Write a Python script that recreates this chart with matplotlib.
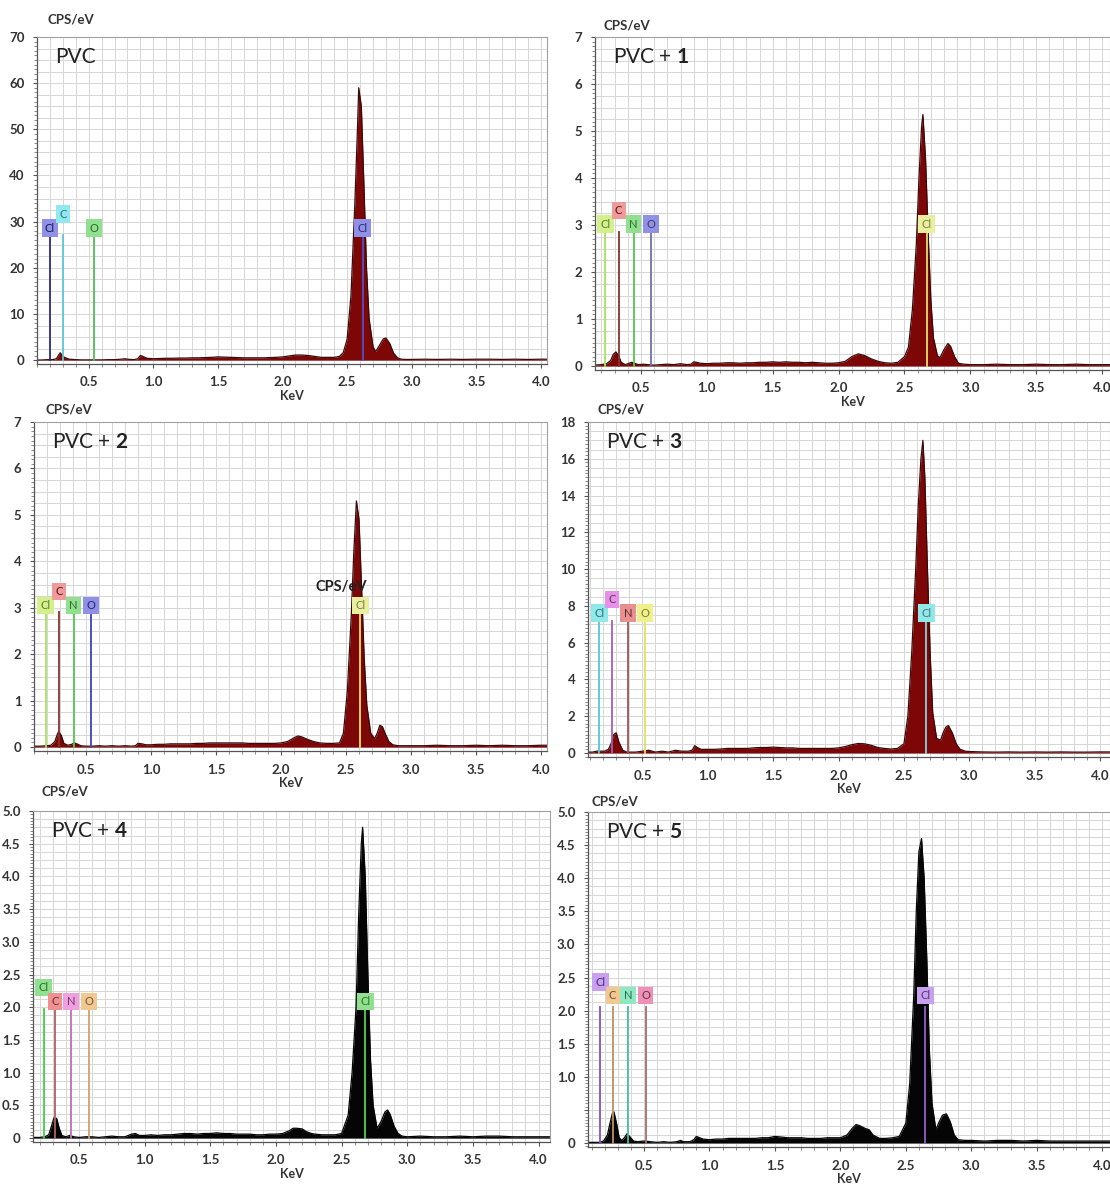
import numpy as np
import matplotlib
matplotlib.use("Agg")
import matplotlib.pyplot as plt
from matplotlib.ticker import MultipleLocator, FixedLocator
import matplotlib.colors as mcolors

plt.rcParams['font.family'] = ['Lato', 'DejaVu Sans']
plt.rcParams['mathtext.fontset'] = 'custom'
plt.rcParams['mathtext.rm'] = 'Lato'
plt.rcParams['mathtext.bf'] = 'Lato:bold'

W, H = 1110, 1191

# ---------------- data (energy keV, counts CPS/eV) ----------------
pvc_energy = [0.10, 0.15, 0.18, 0.20, 0.22, 0.25, 0.27, 0.28, 0.30, 0.32, 0.35, 0.40, 0.45, 0.50,
              0.55, 0.60, 0.65, 0.70, 0.75, 0.78, 0.80, 0.85, 0.88, 0.90, 0.92, 0.95, 1.00, 1.05,
              1.10, 1.15, 1.20, 1.25, 1.30, 1.35, 1.40, 1.45, 1.50, 1.55, 1.60, 1.65, 1.70, 1.75,
              1.80, 1.85, 1.90, 1.95, 2.00, 2.05, 2.10, 2.15, 2.20, 2.25, 2.30, 2.35, 2.40, 2.44,
              2.47, 2.50, 2.53, 2.56, 2.58, 2.59, 2.61, 2.63, 2.65, 2.67, 2.70, 2.72, 2.75, 2.78,
              2.80, 2.83, 2.86, 2.89, 2.92, 2.95, 3.00, 3.10, 3.20, 3.30, 3.40, 3.50, 3.60, 3.70,
              3.80, 3.90, 4.00, 4.05]
pvc_counts = [0.0, 0.05, 0.1, 0.1, 0.1, 0.3, 1.2, 1.6, 0.8, 0.5, 0.2, 0.1, 0.05, 0.05,
              0.05, 0.05, 0.1, 0.1, 0.2, 0.3, 0.2, 0.1, 0.3, 1.0, 0.8, 0.4, 0.3, 0.35,
              0.4, 0.4, 0.45, 0.45, 0.5, 0.5, 0.55, 0.6, 0.7, 0.65, 0.6, 0.55, 0.5, 0.5,
              0.5, 0.5, 0.55, 0.6, 0.7, 0.9, 1.1, 1.1, 1.0, 0.8, 0.6, 0.6, 0.6, 0.8,
              1.6, 4.5, 14, 34, 50, 59, 55, 38, 20, 9, 3, 1.8, 3.2, 4.6,
              4.8, 3.6, 1.5, 0.5, 0.2, 0.15, 0.15, 0.2, 0.15, 0.2, 0.15, 0.2, 0.2, 0.15,
              0.2, 0.15, 0.2, 0.2]

pvc1_energy = [0.15, 0.20, 0.24, 0.27, 0.29, 0.31, 0.33, 0.35, 0.38, 0.41, 0.43, 0.45, 0.48, 0.52,
               0.55, 0.60, 0.65, 0.70, 0.75, 0.80, 0.85, 0.88, 0.90, 0.92, 0.95, 1.00, 1.05, 1.10,
               1.15, 1.20, 1.25, 1.30, 1.35, 1.40, 1.45, 1.50, 1.55, 1.60, 1.65, 1.70, 1.75, 1.80,
               1.85, 1.90, 1.95, 2.00, 2.05, 2.10, 2.15, 2.20, 2.25, 2.30, 2.35, 2.40, 2.45, 2.50,
               2.53, 2.56, 2.59, 2.61, 2.63, 2.64, 2.66, 2.68, 2.70, 2.72, 2.75, 2.77, 2.80, 2.83,
               2.85, 2.88, 2.91, 2.95, 3.00, 3.10, 3.20, 3.30, 3.40, 3.50, 3.60, 3.70, 3.80, 3.90,
               4.00, 4.06]
pvc1_counts = [0.02, 0.03, 0.05, 0.12, 0.25, 0.3, 0.22, 0.08, 0.03, 0.06, 0.08, 0.06, 0.03, 0.04,
               0.03, 0.02, 0.03, 0.04, 0.03, 0.05, 0.03, 0.04, 0.09, 0.08, 0.06, 0.05, 0.06, 0.06,
               0.07, 0.07, 0.06, 0.07, 0.07, 0.08, 0.08, 0.09, 0.08, 0.09, 0.08, 0.08, 0.07, 0.08,
               0.07, 0.06, 0.06, 0.07, 0.1, 0.2, 0.26, 0.22, 0.15, 0.1, 0.07, 0.06, 0.08, 0.2,
               0.4, 1.2, 2.6, 4.0, 5.1, 5.35, 4.4, 2.8, 1.4, 0.6, 0.22, 0.18, 0.35, 0.48,
               0.42, 0.2, 0.06, 0.04, 0.03, 0.03, 0.04, 0.03, 0.03, 0.04, 0.03, 0.03, 0.04, 0.03,
               0.03, 0.03]

pvc2_energy = [0.10, 0.15, 0.20, 0.23, 0.26, 0.28, 0.29, 0.31, 0.33, 0.36, 0.39, 0.41, 0.43, 0.46,
               0.50, 0.55, 0.60, 0.65, 0.70, 0.75, 0.80, 0.85, 0.88, 0.90, 0.93, 0.96, 1.00, 1.05,
               1.10, 1.15, 1.20, 1.25, 1.30, 1.35, 1.40, 1.45, 1.50, 1.55, 1.60, 1.65, 1.70, 1.75,
               1.80, 1.85, 1.90, 1.95, 2.00, 2.05, 2.10, 2.13, 2.16, 2.20, 2.25, 2.30, 2.35, 2.40,
               2.45, 2.48, 2.51, 2.54, 2.56, 2.58, 2.60, 2.62, 2.64, 2.66, 2.69, 2.72, 2.74, 2.76,
               2.78, 2.80, 2.83, 2.86, 2.90, 2.95, 3.00, 3.10, 3.20, 3.30, 3.40, 3.50, 3.60, 3.70,
               3.80, 3.90, 4.00, 4.05]
pvc2_counts = [0.02, 0.02, 0.03, 0.04, 0.12, 0.28, 0.34, 0.25, 0.08, 0.04, 0.06, 0.09, 0.07, 0.03,
               0.02, 0.02, 0.03, 0.02, 0.03, 0.02, 0.03, 0.02, 0.03, 0.08, 0.07, 0.05, 0.05, 0.06,
               0.06, 0.07, 0.07, 0.07, 0.07, 0.08, 0.08, 0.09, 0.09, 0.09, 0.09, 0.09, 0.09, 0.08,
               0.08, 0.08, 0.08, 0.08, 0.09, 0.12, 0.2, 0.24, 0.22, 0.17, 0.12, 0.09, 0.08, 0.08,
               0.09, 0.3, 1.2, 2.8, 4.2, 5.3, 4.9, 3.4, 1.9, 0.9, 0.3, 0.18, 0.3, 0.47,
               0.44, 0.3, 0.12, 0.05, 0.03, 0.03, 0.03, 0.03, 0.04, 0.03, 0.03, 0.04, 0.03, 0.04,
               0.03, 0.03, 0.04, 0.04]

pvc3_energy = [0.08, 0.12, 0.15, 0.18, 0.21, 0.24, 0.26, 0.28, 0.30, 0.32, 0.35, 0.38, 0.41, 0.45,
               0.50, 0.55, 0.60, 0.65, 0.70, 0.75, 0.80, 0.85, 0.88, 0.90, 0.92, 0.95, 1.00, 1.05,
               1.10, 1.15, 1.20, 1.25, 1.30, 1.35, 1.40, 1.45, 1.50, 1.55, 1.60, 1.65, 1.70, 1.75,
               1.80, 1.85, 1.90, 1.95, 2.00, 2.05, 2.10, 2.15, 2.20, 2.25, 2.30, 2.35, 2.40, 2.45,
               2.50, 2.53, 2.56, 2.59, 2.61, 2.63, 2.645, 2.66, 2.68, 2.70, 2.72, 2.75, 2.78, 2.80,
               2.82, 2.84, 2.87, 2.90, 2.93, 2.97, 3.00, 3.10, 3.20, 3.30, 3.40, 3.50, 3.60, 3.70,
               3.80, 3.90, 4.00, 4.08]
pvc3_counts = [0.05, 0.05, 0.1, 0.1, 0.1, 0.2, 0.5, 1.0, 1.1, 0.6, 0.15, 0.05, 0.05, 0.05,
               0.1, 0.15, 0.05, 0.1, 0.05, 0.15, 0.1, 0.1, 0.15, 0.4, 0.3, 0.2, 0.2, 0.2,
               0.22, 0.25, 0.25, 0.25, 0.25, 0.28, 0.3, 0.3, 0.32, 0.3, 0.28, 0.28, 0.25, 0.25,
               0.25, 0.25, 0.25, 0.25, 0.28, 0.35, 0.45, 0.52, 0.5, 0.42, 0.3, 0.25, 0.22, 0.25,
               0.5, 2.0, 5.5, 10.0, 13.5, 16.0, 17.0, 15.0, 10.0, 5.5, 2.2, 0.8, 0.7, 1.1,
               1.4, 1.5, 1.1, 0.5, 0.2, 0.1, 0.08, 0.06, 0.05, 0.06, 0.05, 0.06, 0.05, 0.06,
               0.05, 0.05, 0.06, 0.06]

pvc4_energy = [0.15, 0.20, 0.24, 0.27, 0.29, 0.31, 0.33, 0.35, 0.37, 0.40, 0.43, 0.46, 0.50, 0.55,
               0.60, 0.65, 0.70, 0.75, 0.80, 0.85, 0.90, 0.93, 0.96, 1.00, 1.05, 1.10, 1.15, 1.20,
               1.25, 1.30, 1.35, 1.40, 1.45, 1.50, 1.55, 1.60, 1.65, 1.70, 1.75, 1.80, 1.85, 1.90,
               1.95, 2.00, 2.05, 2.10, 2.13, 2.16, 2.20, 2.23, 2.27, 2.30, 2.35, 2.40, 2.45, 2.50,
               2.55, 2.58, 2.61, 2.63, 2.65, 2.66, 2.68, 2.70, 2.72, 2.74, 2.77, 2.80, 2.83, 2.85,
               2.87, 2.90, 2.93, 2.96, 3.00, 3.10, 3.20, 3.30, 3.40, 3.50, 3.60, 3.70, 3.80, 3.90,
               4.00, 4.09]
pvc4_counts = [0.01, 0.01, 0.02, 0.05, 0.18, 0.31, 0.3, 0.15, 0.04, 0.02, 0.04, 0.02, 0.01, 0.02,
               0.02, 0.01, 0.02, 0.03, 0.02, 0.02, 0.06, 0.07, 0.04, 0.04, 0.05, 0.04, 0.05, 0.05,
               0.06, 0.07, 0.07, 0.06, 0.07, 0.07, 0.08, 0.07, 0.07, 0.06, 0.06, 0.06, 0.05, 0.05,
               0.06, 0.06, 0.07, 0.11, 0.15, 0.15, 0.14, 0.1, 0.07, 0.06, 0.05, 0.05, 0.05, 0.07,
               0.35, 1.0, 2.0, 3.4, 4.5, 4.75, 4.0, 2.5, 1.2, 0.5, 0.15, 0.25, 0.4, 0.43,
               0.36, 0.18, 0.07, 0.03, 0.02, 0.03, 0.02, 0.02, 0.03, 0.02, 0.03, 0.03, 0.02, 0.02,
               0.02, 0.02]

pvc5_energy = [0.07, 0.12, 0.16, 0.19, 0.22, 0.24, 0.26, 0.27, 0.29, 0.31, 0.33, 0.35, 0.37, 0.39,
               0.42, 0.45, 0.50, 0.55, 0.60, 0.65, 0.70, 0.75, 0.78, 0.80, 0.85, 0.88, 0.90, 0.95,
               1.00, 1.05, 1.10, 1.15, 1.20, 1.25, 1.30, 1.35, 1.40, 1.45, 1.50, 1.55, 1.60, 1.65,
               1.70, 1.75, 1.80, 1.85, 1.90, 1.95, 2.00, 2.05, 2.09, 2.12, 2.15, 2.19, 2.22, 2.25,
               2.30, 2.35, 2.40, 2.45, 2.50, 2.53, 2.56, 2.58, 2.60, 2.62, 2.64, 2.66, 2.68, 2.70,
               2.73, 2.75, 2.78, 2.81, 2.84, 2.87, 2.90, 2.95, 3.00, 3.10, 3.20, 3.30, 3.40, 3.50,
               3.60, 3.70, 3.80, 3.90, 4.00, 4.06]
pvc5_counts = [0.01, 0.01, 0.01, 0.03, 0.12, 0.3, 0.46, 0.47, 0.3, 0.08, 0.04, 0.08, 0.14, 0.1,
               0.03, 0.02, 0.03, 0.02, 0.01, 0.02, 0.01, 0.02, 0.04, 0.02, 0.02, 0.05, 0.1, 0.06,
               0.05, 0.06, 0.06, 0.07, 0.07, 0.07, 0.07, 0.07, 0.08, 0.08, 0.1, 0.09, 0.08, 0.08,
               0.08, 0.07, 0.07, 0.07, 0.08, 0.08, 0.08, 0.12, 0.22, 0.28, 0.26, 0.22, 0.2, 0.12,
               0.07, 0.07, 0.08, 0.1, 0.3, 0.9, 2.2, 3.5, 4.4, 4.6, 4.0, 2.8, 1.4, 0.6,
               0.2, 0.3, 0.42, 0.44, 0.32, 0.12, 0.05, 0.04, 0.04, 0.03, 0.04, 0.04, 0.03, 0.04,
               0.03, 0.03, 0.03, 0.03, 0.03, 0.03]

# element markers: (element, energy keV, raised label?)
pvc_elements = [("Cl", 0.20, 0), ("C", 0.30, 1), ("O", 0.54, 0), ("Cl", 2.62, 0)]
pvc1_elements = [("Cl", 0.23, 0), ("C", 0.33, 1), ("N", 0.445, 0), ("O", 0.575, 0), ("Cl", 2.67, 0)]
pvc2_elements = [("Cl", 0.19, 0), ("C", 0.29, 1), ("N", 0.405, 0), ("O", 0.54, 0), ("Cl", 2.61, 0)]
pvc3_elements = [("Cl", 0.17, 0), ("C", 0.27, 1), ("N", 0.39, 0), ("O", 0.52, 0), ("Cl", 2.67, 0)]
pvc4_elements = [("Cl", 0.23, 1), ("C", 0.32, 0), ("N", 0.44, 0), ("O", 0.575, 0), ("Cl", 2.68, 0)]
pvc5_elements = [("Cl", 0.165, 1), ("C", 0.26, 0), ("N", 0.377, 0), ("O", 0.513, 0), ("Cl", 2.65, 0)]

titles = ["PVC", "PVC + $\\mathbf{1}$", "PVC + $\\mathbf{2}$",
          "PVC + $\\mathbf{3}$", "PVC + $\\mathbf{4}$", "PVC + $\\mathbf{5}$"]

y_ticks_big = [0, 10, 20, 30, 40, 50, 60, 70]
y_ticks_7 = [0, 1, 2, 3, 4, 5, 6, 7]
y_ticks_18 = [0, 2, 4, 6, 8, 10, 12, 14, 16, 18]
y_ticks_5 = [0, 0.5, 1.0, 1.5, 2.0, 2.5, 3.0, 3.5, 4.0, 4.5, 5.0]
y_labels_5a = ["0", "0.5", "1.0", "1.5", "2.0", "2.5", "3.0", "3.5", "4.0", "4.5", "5.0"]
y_labels_5b = ["0", "", "1.0", "1.5", "2.0", "2.5", "3.0", "3.5", "4.0", "4.5", "5.0"]
x_ticks = [0.5, 1.0, 1.5, 2.0, 2.5, 3.0, 3.5, 4.0]

# ---------------- styling / layout ----------------
RED = "#7d0606"
BLK = "#050505"

panels = [
    dict(title=titles[0], x=pvc_energy, y=pvc_counts, fill=RED, box=(37, 37, 547, 364), xlim=(0.10, 4.047),
         top=70, yt=y_ticks_big, yl=[str(v) for v in y_ticks_big], cps=(48, 20),
         els=pvc_elements, boxy=(28.6, 31.6), ltop=27,
         cols=[("#9090e8", "#2c2c84"), ("#90e8f0", "#5cc8d0"), ("#90e090", "#50c050"), ("#9090e8", "#5050d0")]),
    dict(title=titles[1], x=pvc1_energy, y=pvc1_counts, fill=RED, box=(595, 37, 1110, 370), xlim=(0.151, 4.06),
         top=7, yt=y_ticks_7, yl=[str(v) for v in y_ticks_7], cps=(604, 25),
         els=pvc1_elements, boxy=(3.02, 3.31), ltop=2.86,
         cols=[("#d4f08a", "#a8e060"), ("#f09a9a", "#8a3030"), ("#90e090", "#50c850"), ("#9090e8", "#7070a8"), ("#e8f0a0", "#e0e070")]),
    dict(title=titles[2], x=pvc2_energy, y=pvc2_counts, fill=RED, box=(34, 422, 547, 751), xlim=(0.10, 4.046),
         top=7, yt=y_ticks_7, yl=[str(v) for v in y_ticks_7], cps=(46, 409),
         els=pvc2_elements, boxy=(3.05, 3.35), ltop=2.9,
         cols=[("#d4f08a", "#a8e060"), ("#f09a9a", "#8a3030"), ("#90e090", "#50c850"), ("#9090e8", "#4040c0"), ("#e8f0a0", "#e8e070")]),
    dict(title=titles[3], x=pvc3_energy, y=pvc3_counts, fill=RED, box=(588, 422, 1110, 757), xlim=(0.084, 4.076),
         top=18, yt=y_ticks_18, yl=[str(v) for v in y_ticks_18], cps=(598, 410),
         els=pvc3_elements, boxy=(7.6, 8.35), ltop=7.2,
         cols=[("#90e8e8", "#50c8d0"), ("#e890e8", "#a060b0"), ("#e89090", "#a05050"), ("#f0f08a", "#e0e060"), ("#90e8e8", "#80d8e0")]),
    dict(title=titles[4], x=pvc4_energy, y=pvc4_counts, fill=BLK, box=(33, 811, 550, 1142), xlim=(0.15, 4.087),
         top=5, yt=y_ticks_5, yl=y_labels_5a, cps=(41, 792),
         els=pvc4_elements, boxy=(2.09, 2.3), ltop=1.98,
         cols=[("#90e090", "#40d040"), ("#f09090", "#b06060"), ("#f0a0e0", "#c070b0"), ("#f0c890", "#d0a070"), ("#90e090", "#50d050")]),
    dict(title=titles[5], x=pvc5_energy, y=pvc5_counts, fill=BLK, box=(588, 812, 1110, 1147), xlim=(0.072, 4.06),
         top=5, yt=y_ticks_5, yl=y_labels_5b, cps=(592, 801),
         els=pvc5_elements, boxy=(2.23, 2.43), ltop=2.05,
         cols=[("#c8a0f0", "#8050d0"), ("#f0c890", "#c09060"), ("#90e8c0", "#40c090"), ("#f090b8", "#a07070"), ("#c8a0f0", "#9060d0")]),
]

fig = plt.figure(figsize=(W / 100, H / 100), dpi=100)
fig.patch.set_facecolor("white")

for p in panels:
    l, t, r, b = p["box"]
    ax = fig.add_axes([l / W, 1 - b / H, (r - l) / W, (b - t) / H])
    top = p["top"]
    step = p["yt"][1] - p["yt"][0]
    ax.set_xlim(*p["xlim"])
    ax.set_ylim(-0.012 * top, top)

    # grid
    ax.xaxis.set_major_locator(FixedLocator(x_ticks))
    ax.xaxis.set_minor_locator(MultipleLocator(0.1))
    ax.grid(which="both", axis="x", color="#d6d6d6", lw=0.7, zorder=0)
    for v in np.arange(0, top + 1e-9, step / 4):
        ax.axhline(v, color="#d6d6d6", lw=0.7, zorder=0)
    ax.set_axisbelow(True)

    # spectrum
    xs = np.array(p["x"])
    ys = np.array(p["y"])
    ax.fill_between(xs, ys, 0, color=p["fill"], lw=0, zorder=2)
    ax.plot(xs, ys, color=p["fill"] if p["fill"] == BLK else "#3a0a0a", lw=0.9, zorder=2)

    # element markers
    for (el, e, lvl), (fc, lc) in zip(p["els"], p["cols"]):
        ax.plot([e, e], [0, p["ltop"]], color=lc, lw=1.3, zorder=3)
        tc = tuple(np.array(mcolors.to_rgb(lc)) * 0.55)
        ax.text(e, p["boxy"][lvl], el, ha="center", va="center", fontsize=8, color=tc,
                bbox=dict(boxstyle="square,pad=0.3", fc=fc, ec="none"), zorder=4)

    # ticks
    ax.set_yticks(p["yt"])
    ax.set_yticklabels(p["yl"], fontweight="bold", fontsize=9.5, color="#333333")
    ax.yaxis.set_minor_locator(MultipleLocator(step / 10))
    ax.set_xticklabels([f"{v:.1f}" for v in x_ticks], fontweight="bold", fontsize=9.5, color="#333333")
    ax.tick_params(which="major", length=3, width=0.8, color="#555555", pad=6)
    ax.tick_params(which="minor", length=2, width=0.6, color="#777777")
    ax.set_xlabel("KeV", fontweight="bold", fontsize=9, color="#333333", labelpad=1)

    for s in ["left", "bottom"]:
        ax.spines[s].set_color("#555555")
        ax.spines[s].set_linewidth(0.9)
    for s in ["top", "right"]:
        ax.spines[s].set_color("#a0a0a0")
        ax.spines[s].set_linewidth(0.8)

    ax.text(0.035, 0.94, p["title"], transform=ax.transAxes, fontsize=15, ha="left", va="center", color="#222222")
    fig.text(p["cps"][0] / W, 1 - p["cps"][1] / H, "CPS/eV", fontweight="bold", fontsize=9.5,
             ha="left", va="center", color="#333333")

# stray overlapping label visible in the original composite
fig.text(316 / W, 1 - 587 / H, "CPS/eV", fontweight="bold", fontsize=10.5, ha="left", va="center", color="#222222")

fig.savefig("out.png", dpi=100, facecolor="white")
